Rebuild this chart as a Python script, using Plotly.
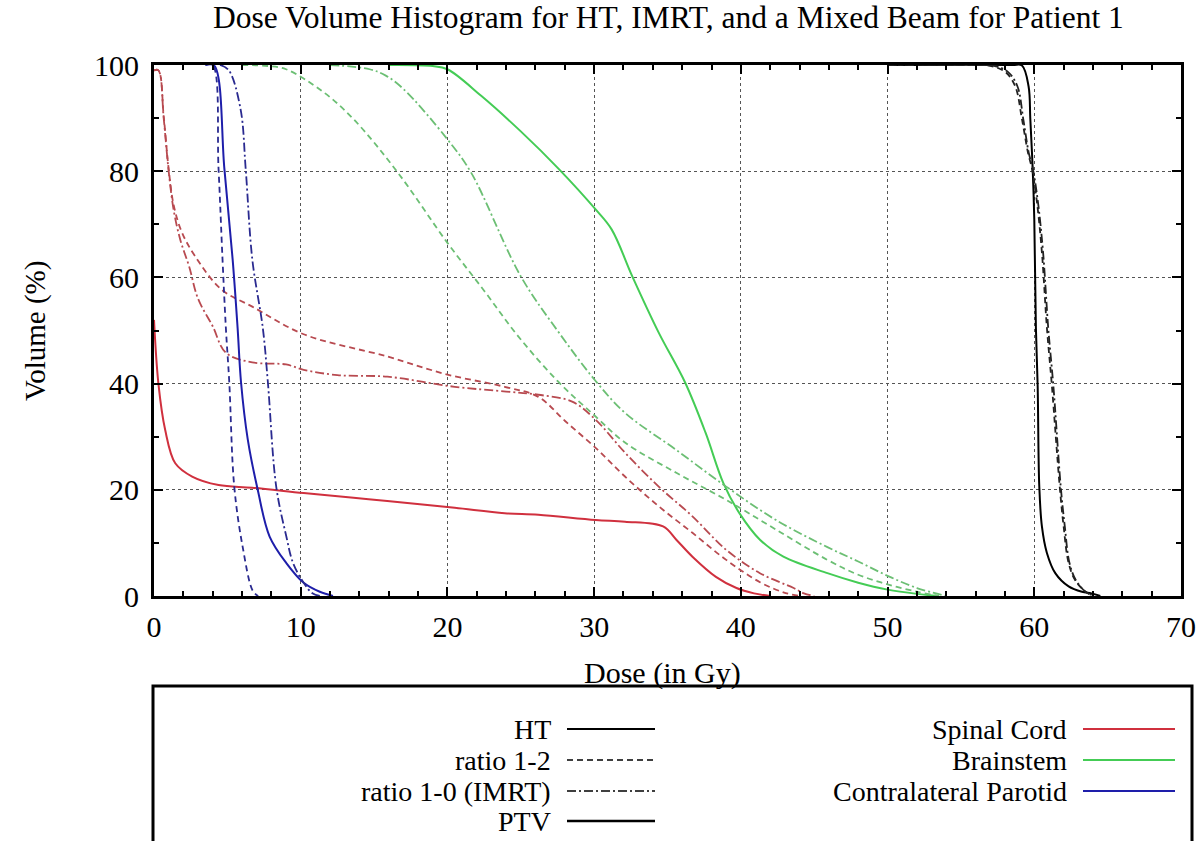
import plotly.graph_objects as go

# ---------------- data ----------------
# Spinal Cord
cord_ht_dose = [0, 0.3, 0.76, 1.45, 2.6, 4.4, 6.7, 10.2, 13.6, 15.9, 20.5, 23.9, 26.2, 30.1, 32.1, 34.7, 35.6, 36.7, 38.3, 39.7, 40.9, 42]
cord_ht_vol = [52, 40, 31.3, 25, 22.5, 20.9, 20.4, 19.4, 18.5, 17.9, 16.6, 15.6, 15.3, 14.3, 14.0, 13.1, 10.6, 7.4, 3.6, 1.5, 0.5, 0]
cord_r12_dose = [0, 0.3, 0.66, 1.0, 1.35, 1.9, 2.8, 4.6, 6.7, 10.2, 15.9, 20.0, 23.9, 26.2, 28.0, 30.1, 32.1, 34.4, 36.7, 39.0, 41.3, 42.9, 44]
cord_r12_vol = [99, 99, 90.4, 80.4, 73.5, 68.5, 64, 57.7, 54.5, 49.3, 45.1, 41.7, 39.4, 37.5, 33, 27.9, 22.5, 16.9, 11.9, 6.8, 2.6, 0.7, 0]
cord_imrt_dose = [0, 0.3, 0.66, 1.0, 1.35, 1.8, 2.4, 3.0, 4.0, 4.9, 6.7, 9.0, 10.2, 12.5, 15.9, 20.5, 24, 26.2, 28.5, 30.1, 32.1, 34.4, 36.7, 39, 41.3, 43.6, 44.3, 45]
cord_imrt_vol = [99, 99, 90, 80, 72.5, 67, 62, 56, 50.8, 45.8, 44, 43.6, 42.6, 41.6, 41.3, 39.4, 38.5, 37.9, 36.6, 33.2, 27, 20.6, 15, 8.7, 4.3, 1.5, 0.5, 0]

# Brainstem
brain_ht_dose = [16, 19, 20, 22.3, 25, 27.6, 30.1, 31.2, 32.6, 34.4, 36.2, 37.6, 38.8, 39.9, 41.3, 42.9, 45.9, 48, 50, 52, 53.5]
brain_ht_vol = [100, 99.8, 99.2, 94.2, 87.5, 80.4, 72.8, 69, 60.2, 49.6, 40.2, 30.7, 21.3, 15.6, 10.6, 7.4, 4.3, 2.5, 1.2, 0.4, 0]
brain_r12_dose = [6, 7.8, 9.0, 11.5, 13.6, 16.6, 20, 22.5, 24.8, 27.5, 30.1, 32.1, 35.6, 39, 42.4, 45.9, 48, 50, 52, 53.5]
brain_r12_vol = [100, 99.8, 99.2, 95, 89.8, 79.8, 66.5, 57.5, 49, 40.5, 33.8, 28.9, 23.2, 18.1, 12.5, 6.8, 4, 2.2, 0.8, 0]
brain_imrt_dose = [12, 14.7, 15.8, 17, 20, 21.6, 25, 27.6, 30.1, 32.1, 35.6, 39, 42.4, 45.9, 48, 50, 52, 54]
brain_imrt_vol = [100, 99.2, 98, 95.5, 86, 79.8, 60.2, 49.6, 40.5, 34.5, 27.5, 20.6, 14.3, 9.2, 6.5, 3.8, 1.5, 0]

# Contralateral Parotid
par_ht_dose = [3.5, 4.1, 4.8, 5.36, 5.7, 5.93, 6.39, 7.07, 7.88, 9.02, 10.2, 11.3, 12.2]
par_ht_vol = [100, 99.9, 80.4, 63.4, 50.4, 40.3, 29.5, 20, 11.2, 6.2, 2.5, 0.8, 0]
par_r12_dose = [3.5, 4.0, 4.4, 4.67, 4.9, 5.13, 5.47, 6.04, 6.73, 7.1]
par_r12_vol = [100, 100, 80.4, 63.4, 50.4, 40.3, 20.6, 9.3, 1, 0]
par_imrt_dose = [4.5, 5.1, 5.9, 6.25, 6.7, 7.42, 7.76, 8.33, 9.02, 9.48, 10.2, 10.8, 11.3]
par_imrt_vol = [100, 99, 91.7, 80.4, 63.4, 50.4, 40.3, 20.6, 11.2, 6.2, 2.5, 0.5, 0]

# PTV
ptv_ht_dose = [50, 58.5, 59.16, 59.61, 59.73, 59.89, 60.0, 60.11, 60.23, 60.34, 60.52, 60.86, 61.43, 62.34, 63.25, 63.9, 64.5]
ptv_ht_vol = [100, 100, 99.9, 96, 89.8, 80.5, 70.9, 50.5, 39.6, 20.7, 13.1, 8.1, 4.3, 1.8, 0.8, 0.5, 0]
ptv_r12_dose = [50, 55.5, 56.9, 58.02, 58.7, 59.16, 59.57, 59.84, 60.18, 60.52, 60.86, 61.2, 61.73, 62.0, 62.34, 62.8, 63.5, 64.0]
ptv_r12_vol = [100, 100, 99.9, 98.7, 96, 89.8, 83.5, 80.5, 74.2, 64.7, 50.5, 39.6, 20.7, 13.1, 6.2, 2.9, 0.8, 0]
ptv_imrt_dose = [50, 55.8, 57.2, 58.2, 58.85, 59.25, 59.62, 59.9, 60.25, 60.6, 60.95, 61.3, 61.8, 62.08, 62.4, 62.85, 63.5, 64.1]
ptv_imrt_vol = [100, 100, 99.9, 98.7, 96, 89.8, 83.5, 80.5, 74.2, 64.7, 50.5, 39.6, 20.7, 13.1, 6.2, 2.9, 0.8, 0]

plan_labels = ["HT", "ratio 1-2", "ratio 1-0 (IMRT)", "PTV"]
structure_labels = ["Spinal Cord", "Brainstem", "Contralateral Parotid"]
x_ticks = [0, 10, 20, 30, 40, 50, 60, 70]
y_ticks = [0, 20, 40, 60, 80, 100]

# ---------------- styles ----------------
FONT = "Liberation Serif"
RED, RED_D = "#d0303e", "#b84a50"
GREEN, GREEN_D = "#44cc55", "#6cbf74"
BLUE, BLUE_D = "#1e1eaa", "#2a2a90"
BLACK = "#000000"
DASH = "6px,4px"
DASHDOT = "9px,3px,2px,3px"

curves = [
    (cord_ht_dose, cord_ht_vol, RED, "solid", 2),
    (cord_r12_dose, cord_r12_vol, RED_D, DASH, 1.8),
    (cord_imrt_dose, cord_imrt_vol, RED_D, DASHDOT, 1.8),
    (brain_ht_dose, brain_ht_vol, GREEN, "solid", 2),
    (brain_r12_dose, brain_r12_vol, GREEN_D, DASH, 1.8),
    (brain_imrt_dose, brain_imrt_vol, GREEN_D, DASHDOT, 1.8),
    (par_ht_dose, par_ht_vol, BLUE, "solid", 2),
    (par_r12_dose, par_r12_vol, BLUE_D, DASH, 1.8),
    (par_imrt_dose, par_imrt_vol, BLUE_D, DASHDOT, 1.8),
    (ptv_ht_dose, ptv_ht_vol, BLACK, "solid", 2),
    (ptv_r12_dose, ptv_r12_vol, "#222222", DASH, 1.8),
    (ptv_imrt_dose, ptv_imrt_vol, "#222222", DASHDOT, 1.8),
]

fig = go.Figure()
for xs, ys, col, dash, w in curves:
    fig.add_trace(go.Scatter(x=xs, y=ys, mode="lines", line=dict(color=col, width=w, dash=dash),
                             line_shape="spline", showlegend=False, hoverinfo="skip"))

L, R, T, B = 154, 17, 65, 245
W, H = 1198, 841
pw, ph = W - L - R, H - T - B

def px(xp):
    return (xp - L) / pw

def py(yp):
    return (H - B - yp) / ph

axis_common = dict(
    showline=True, linewidth=3, linecolor="black", mirror="allticks",
    ticks="inside", ticklen=9, tickwidth=2, tickcolor="black",
    showgrid=True, gridcolor="#555555", griddash="dot", gridwidth=1,
    zeroline=False, tickfont=dict(family=FONT, size=30, color="black"),
)
fig.update_xaxes(range=[0, 70], tickvals=x_ticks, ticklabelstandoff=2,
                 minor=dict(dtick=2, ticks="inside", ticklen=5, tickwidth=2, tickcolor="black", showgrid=False),
                 **axis_common)
fig.update_yaxes(range=[0, 100], tickvals=y_ticks, ticklabelstandoff=6,
                 minor=dict(dtick=10, ticks="inside", ticklen=5, tickwidth=2, tickcolor="black", showgrid=False),
                 **axis_common)

def text_ann(text, xp, yp, size, xanchor="center", angle=0):
    return dict(text=text, x=px(xp), y=py(yp), xref="paper", yref="paper", showarrow=False,
                xanchor=xanchor, yanchor="middle", textangle=angle,
                font=dict(family=FONT, size=size, color="black"))

annotations = [
    text_ann("Dose Volume Histogram for HT, IMRT, and a Mixed Beam for Patient 1", 668, 18, 31.5),
    text_ann("Dose (in Gy)", 662, 673, 30),
    text_ann("Volume (%)", 35, 331, 29, angle=-90),
]

shapes = [
    dict(type="rect", xref="paper", yref="paper", x0=px(153), x1=px(1192), y0=py(686), y1=py(860),
         line=dict(color="black", width=3), fillcolor="rgba(0,0,0,0)"),
]

rows_y = [729, 760, 791, 821]
plan_styles = [("solid", 2), (DASH, 1.6), (DASHDOT, 1.6), ("solid", 2.5)]
for lab, yy, (dash, w) in zip(plan_labels, rows_y, plan_styles):
    annotations.append(text_ann(lab, 553, yy, 28, xanchor="right"))
    shapes.append(dict(type="line", xref="paper", yref="paper", x0=px(567), x1=px(655), y0=py(yy), y1=py(yy),
                       line=dict(color="black", width=w, dash=dash)))

for lab, yy, col in zip(structure_labels, rows_y, [RED, GREEN, BLUE]):
    annotations.append(text_ann(lab, 1069, yy, 28, xanchor="right"))
    shapes.append(dict(type="line", xref="paper", yref="paper", x0=px(1083), x1=px(1175), y0=py(yy), y1=py(yy),
                       line=dict(color=col, width=2)))

fig.update_layout(
    width=W, height=H, margin=dict(l=L, r=R, t=T, b=B, autoexpand=False),
    paper_bgcolor="white", plot_bgcolor="white",
    annotations=annotations, shapes=shapes, showlegend=False,
)

fig.write_html("out.html", config={"displayModeBar": False},
               post_script="document.body.style.margin='0';document.body.style.overflow='hidden';")
